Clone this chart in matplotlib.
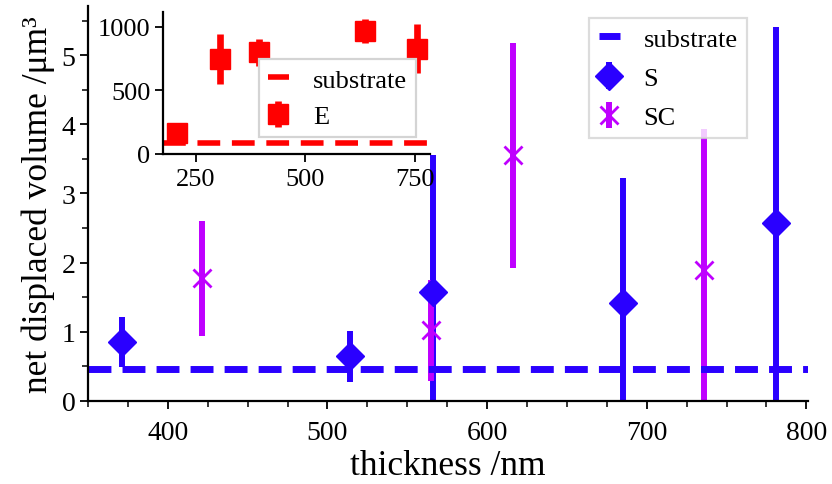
import matplotlib
matplotlib.use("Agg")
import matplotlib.pyplot as plt
from matplotlib.ticker import MultipleLocator, FixedLocator

plt.rcParams["font.family"] = ["Liberation Serif", "DejaVu Serif"]

# colours
blue = "#2a00ff"
purple = "#bf00ff"
red = "#ff0000"

# main panel: displaced volume vs. film thickness
substrate_volume = 0.46
s_thickness = [371, 514, 566, 685, 781]
s_volume = [0.85, 0.645, 1.57, 1.42, 2.57]
s_err = [0.36, 0.365, 1.99, 1.81, 2.83]

sc_thickness = [421.5, 565, 616.5, 736]
sc_volume = [1.775, 1.02, 3.55, 1.89]
sc_err = [0.83, 0.73, 1.63, 2.04]

# inset panel
e_substrate = 87
e_thickness = [207, 305, 395, 637, 755]
e_volume = [162, 746, 800, 968, 830]
e_err = [40, 197, 108, 92, 190]

main_xticks = [400, 500, 600, 700, 800]
main_yticks = [0, 1, 2, 3, 4, 5]
inset_xticks = [250, 500, 750]
inset_yticks = [0, 500, 1000]

W, H = 832, 485
fig = plt.figure(figsize=(W / 100, H / 100), dpi=100)


def style_axes(ax, fs, xpad):
    for side in ("top", "right"):
        ax.spines[side].set_visible(False)
    for side in ("left", "bottom"):
        ax.spines[side].set_linewidth(1.6)
    ax.tick_params(which="major", direction="out", length=6, width=1.3,
                   labelsize=fs, pad=3)
    ax.tick_params(axis="x", which="major", pad=xpad)
    ax.tick_params(which="minor", direction="out", length=4, width=1.1)


# ---- main axes ----
ax = fig.add_axes([88 / W, (H - 402) / H, 720 / W, 395 / H])
style_axes(ax, 20, 7.5)
h_sub = ax.axhline(substrate_volume, color=blue, lw=5, dashes=(3.3, 1.6),
                   zorder=2.5, label="substrate")
h_s = ax.errorbar(s_thickness, s_volume, yerr=s_err, fmt="D", color=blue,
                  ms=14.5, elinewidth=4.3, capsize=0, label="S")
h_sc = ax.errorbar(sc_thickness, sc_volume, yerr=sc_err, fmt="x",
                   color=purple, ms=13.5, mew=2.0, elinewidth=4.3,
                   capsize=0, label="SC")
ax.set_xlim(350, 801)
ax.set_ylim(0, 5.71)
ax.xaxis.set_major_locator(FixedLocator(main_xticks))
ax.xaxis.set_minor_locator(MultipleLocator(25))
ax.yaxis.set_major_locator(FixedLocator(main_yticks))
ax.yaxis.set_minor_locator(MultipleLocator(0.5))
ax.set_xlabel("thickness /nm", fontsize=25.5, labelpad=3)
ax.set_ylabel("net displaced volume /μm³", fontsize=25.5, labelpad=5)

leg = ax.legend(handles=[h_sub, h_s, h_sc], loc="upper right",
                bbox_to_anchor=(0.915, 0.97), borderaxespad=0,
                fontsize=19, fancybox=False, edgecolor="#d4d4d4",
                framealpha=0.8, handlelength=0.8, handletextpad=0.9,
                labelspacing=0.6, borderpad=0.35)
leg.get_frame().set_linewidth(1.6)

# ---- inset axes ----
axin = fig.add_axes([163 / W, (H - 155) / H, 267 / W, 142.3 / H])
style_axes(axin, 19, 4)
h_esub = axin.axhline(e_substrate, color=red, lw=4, dashes=(4.1, 2.1),
                      zorder=2.5, label="substrate")
h_e = axin.errorbar(e_thickness, e_volume, yerr=e_err, fmt="s", color=red,
                    ms=15, elinewidth=4.8, capsize=0, label="E")
axin.set_xlim(175, 785)
axin.set_ylim(0, 1120)
axin.xaxis.set_major_locator(FixedLocator(inset_xticks))
axin.yaxis.set_major_locator(FixedLocator(inset_yticks))

leg2 = axin.legend(handles=[h_esub, h_e], loc="upper right",
                   bbox_to_anchor=(0.948, 0.669), borderaxespad=0,
                   fontsize=19, fancybox=False, edgecolor="#d4d4d4",
                   framealpha=1.0, handlelength=0.8, handletextpad=0.9,
                   labelspacing=0.5, borderpad=0.35)
leg2.get_frame().set_linewidth(1.6)

fig.savefig("out.png", dpi=100)
